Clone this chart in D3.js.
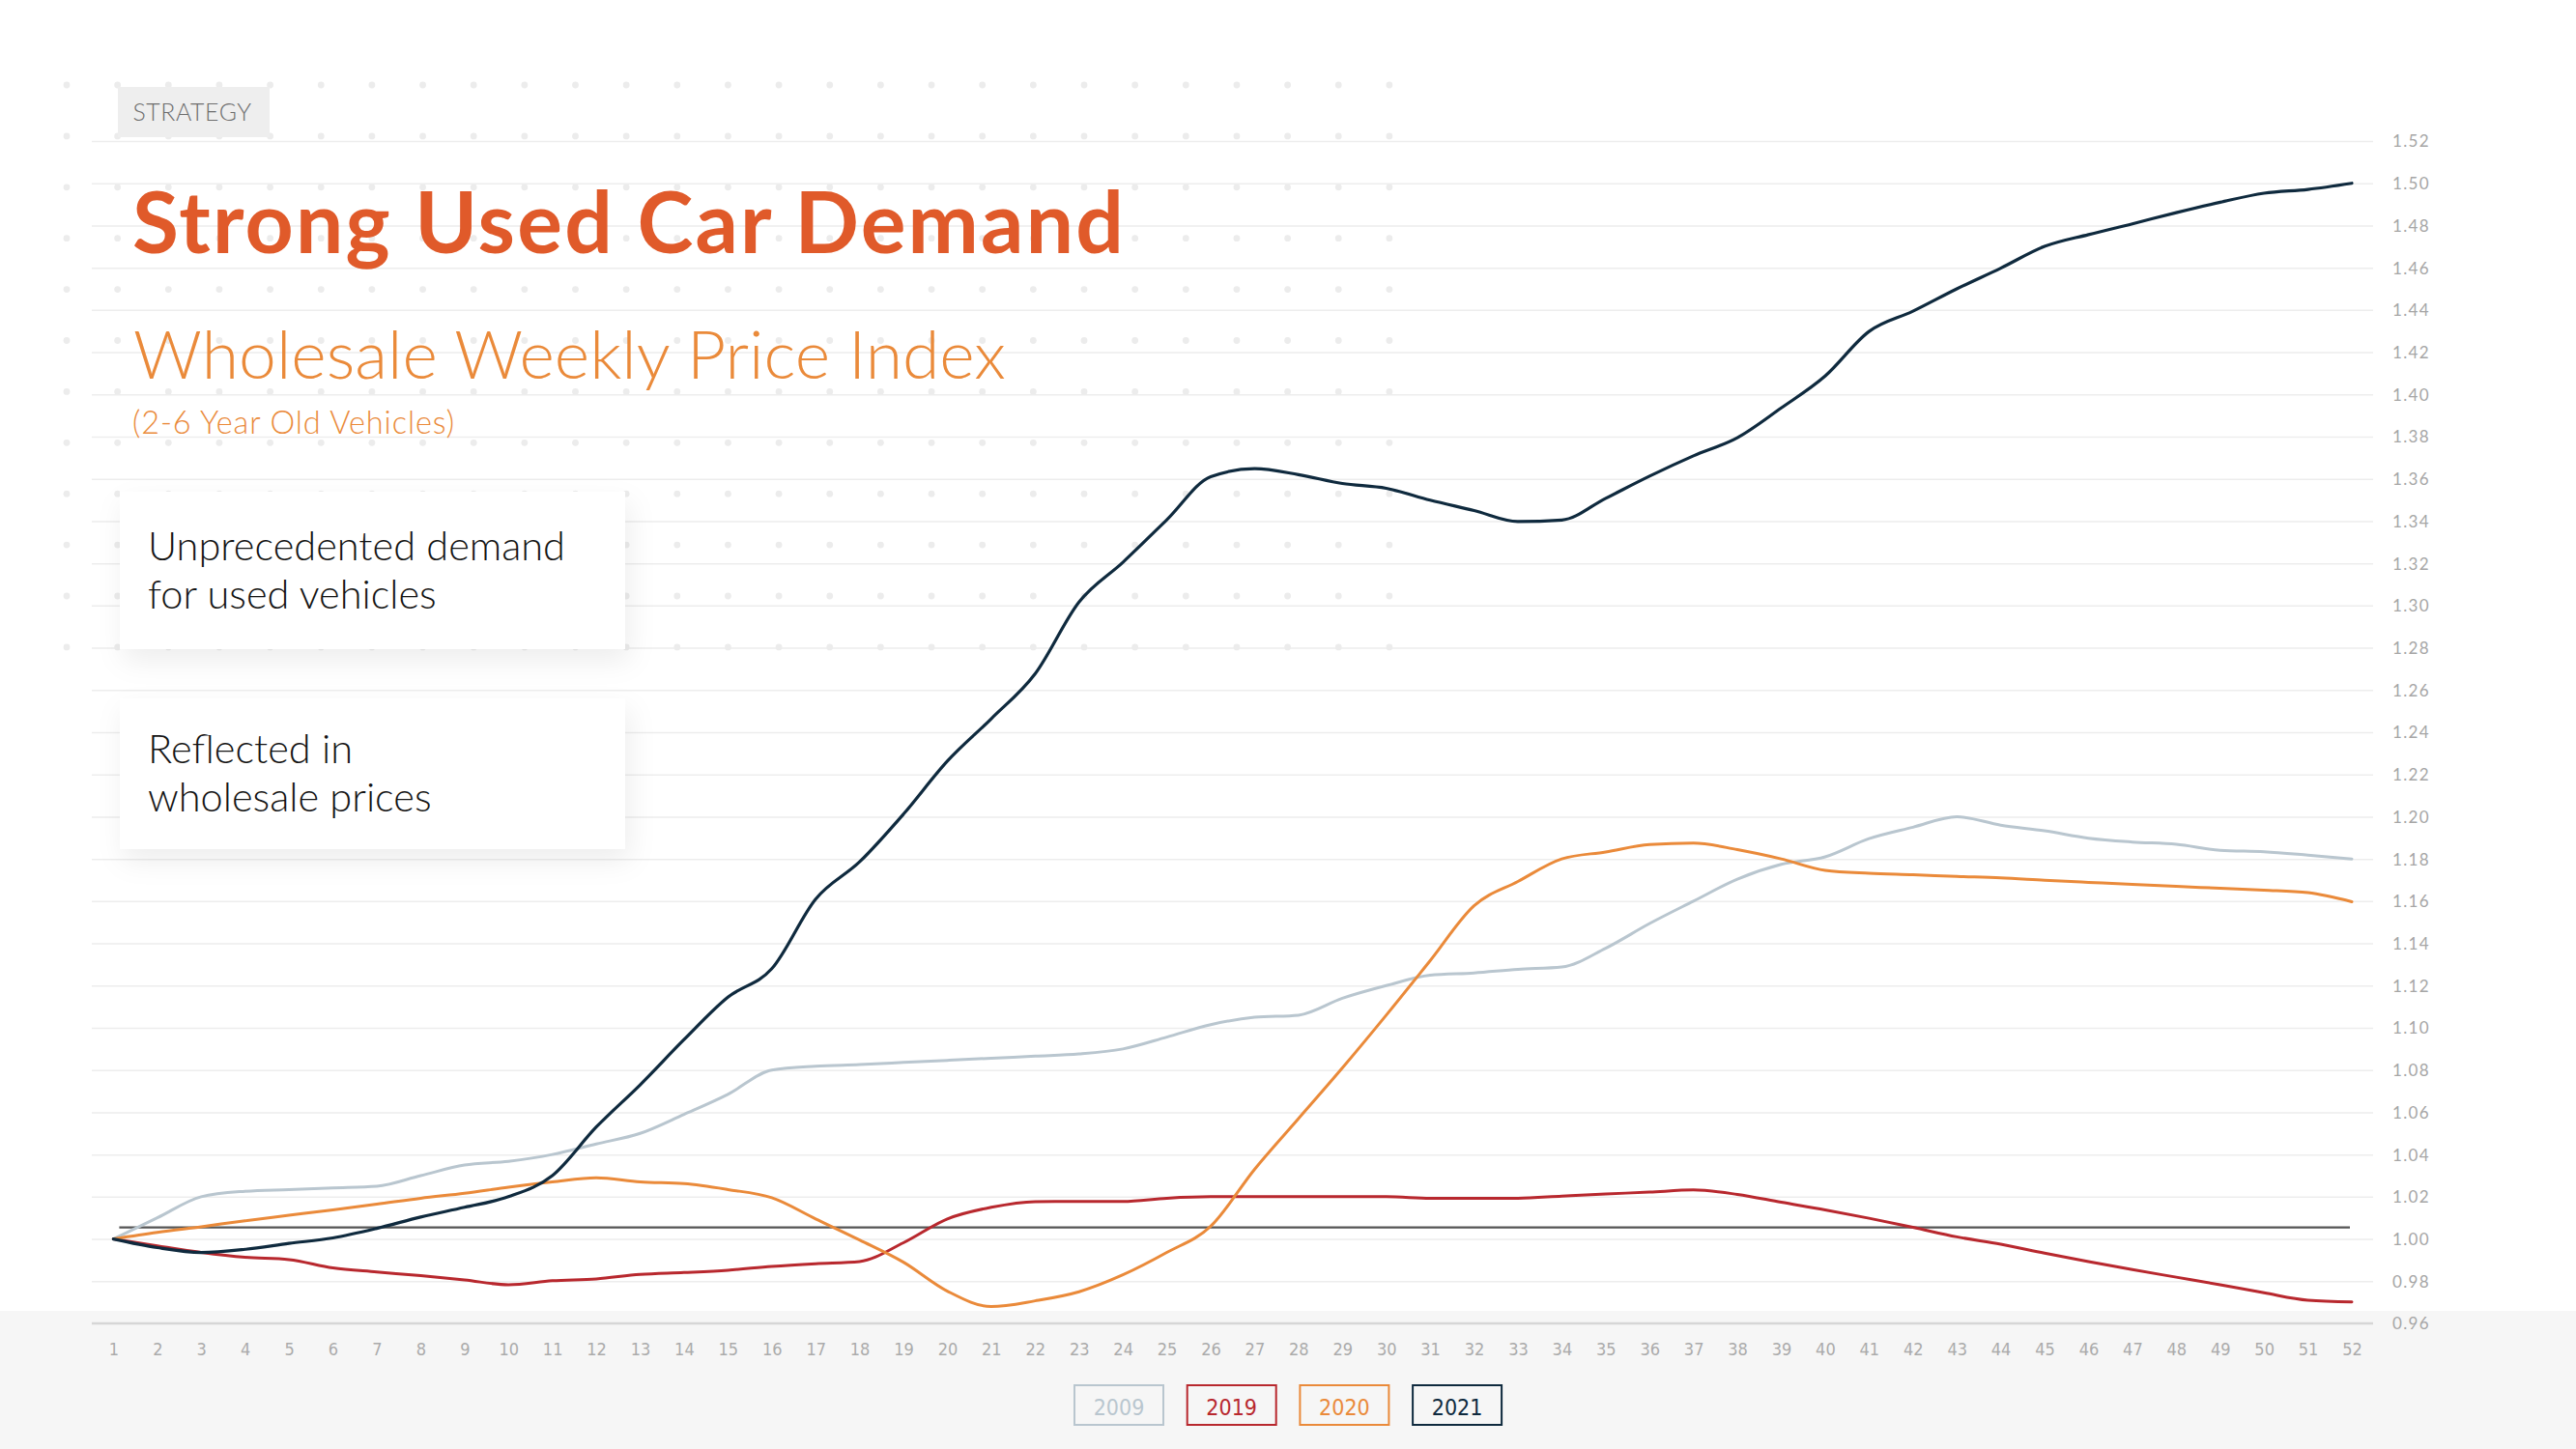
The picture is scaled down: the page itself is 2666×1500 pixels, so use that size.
<!DOCTYPE html>
<html>
<head>
<meta charset="utf-8">
<script src="https://cdn.jsdelivr.net/npm/d3@7"></script>
<style>
  html, body { margin: 0; padding: 0; background: #ffffff; }
  svg { display: block; }
</style>
</head>
<body>
<svg id="chart" width="2666" height="1500"></svg>
<script>
// ---------------- DATA ----------------
const weeks = d3.range(1, 53);

const values2009 = [
  1.000, 1.010, 1.020, 1.0226, 1.0234, 1.0242, 1.025, 1.030, 1.035, 1.0368,
  1.040, 1.045, 1.050, 1.059, 1.0685, 1.080, 1.0818, 1.0826, 1.0836, 1.0846,
  1.0856, 1.0866, 1.0876, 1.090, 1.0956, 1.1015, 1.105, 1.106, 1.114, 1.120,
  1.1249, 1.126, 1.1277, 1.1288, 1.1377, 1.1494, 1.160, 1.1704, 1.1774, 1.181,
  1.1896, 1.195, 1.200, 1.196, 1.1933, 1.1898, 1.188, 1.1869, 1.1841, 1.1834,
  1.1818, 1.180
];

const values2019 = [
  1.000, 0.9967, 0.9936, 0.9913, 0.9902, 0.9863, 0.9844, 0.9826, 0.9806, 0.9783,
  0.9802, 0.9811, 0.9832, 0.9841, 0.9852, 0.9870, 0.9883, 0.9893, 0.9982, 1.0095,
  1.015, 1.0177, 1.0178, 1.0178, 1.0193, 1.020, 1.020, 1.020, 1.020, 1.020,
  1.0193, 1.0192, 1.0193, 1.0203, 1.0213, 1.0222, 1.0232, 1.0211, 1.0174, 1.0138,
  1.0098, 1.0055, 1.001, 0.9975, 0.9933, 0.9893, 0.9855, 0.9819, 0.9783, 0.9745,
  0.971, 0.9702
];

const values2020 = [
  1.000, 1.0031, 1.0058, 1.0086, 1.0112, 1.0138, 1.0165, 1.0193, 1.0217, 1.0245,
  1.0270, 1.0290, 1.0270, 1.0262, 1.0234, 1.0195, 1.0095, 0.9995, 0.989, 0.9753,
  0.968, 0.9707, 0.975, 0.983, 0.9936, 1.006, 1.033, 1.057, 1.081, 1.106,
  1.1318, 1.1578, 1.1693, 1.180, 1.1833, 1.1868, 1.1875, 1.1844, 1.180, 1.1746,
  1.1732, 1.1725, 1.1717, 1.171, 1.1699, 1.1689, 1.1679, 1.167, 1.1661, 1.1652,
  1.164, 1.1597
];

const values2021 = [
  1.000, 0.9959, 0.9936, 0.9951, 0.9979, 1.0005, 1.005, 1.0104, 1.015, 1.020,
  1.030, 1.053, 1.073, 1.0944, 1.1145, 1.128, 1.161, 1.1786, 1.2012, 1.2263,
  1.2464, 1.2677, 1.3017, 1.3205, 1.3406, 1.361, 1.3648, 1.362, 1.3578, 1.3555,
  1.3499, 1.345, 1.3398, 1.3405, 1.3508, 1.3613, 1.3709, 1.3795, 1.3936, 1.4087,
  1.4298, 1.4394, 1.4500, 1.4598, 1.4701, 1.4757, 1.4808, 1.4861, 1.491, 1.4953,
  1.4971, 1.500
];

const seriesNames = ["2009", "2019", "2020", "2021"];
const seriesValues = [values2009, values2019, values2020, values2021];

const yTickValues = [0.96, 0.98, 1.00, 1.02, 1.04, 1.06, 1.08, 1.10, 1.12, 1.14,
  1.16, 1.18, 1.20, 1.22, 1.24, 1.26, 1.28, 1.30, 1.32, 1.34, 1.36, 1.38, 1.40,
  1.42, 1.44, 1.46, 1.48, 1.50, 1.52];

const referenceValue = 1.0055;

const tagText = "STRATEGY";
const titleText = "Strong Used Car Demand";
const subtitleText = "Wholesale Weekly Price Index";
const noteText = "(2-6 Year Old Vehicles)";
const callouts = [
  ["Unprecedented demand", "for used vehicles"],
  ["Reflected in", "wholesale prices"]
];

// ---------------- STYLE ----------------
const colors = { "2009": "#b9c6cf", "2019": "#b8282e", "2020": "#ea8a3a", "2021": "#0f2a3e" };
const widths = { "2009": 3, "2019": 3, "2020": 3, "2021": 3.2 };
const orange = "#e05a2a";
const lightOrange = "#ea8a3a";
const condensed = "'Liberation Sans Narrow', 'DejaVu Sans Condensed', 'Roboto Condensed', sans-serif";
const sans = "Lato, 'Open Sans', sans-serif";

// ---------------- LAYOUT ----------------
const W = 2666, H = 1500;
const gridLeft = 95, gridRight = 2456;
const x = d3.scaleLinear().domain([1, 52]).range([117.4, 2434]);
const y = d3.scaleLinear().domain([0.96, 1.52]).range([1370, 146]);

const svg = d3.select("#chart");
const defs = svg.append("defs");
const f = defs.append("filter").attr("id", "shadow")
  .attr("x", "-20%").attr("y", "-40%").attr("width", "150%").attr("height", "190%");
f.append("feDropShadow").attr("dx", 4).attr("dy", 12).attr("stdDeviation", 14)
  .attr("flood-color", "#000").attr("flood-opacity", 0.07);

svg.append("rect").attr("width", W).attr("height", H).attr("fill", "#ffffff");

// decorative dot pattern
const dotG = svg.append("g");
for (let i = 0; i < 12; i++) {
  for (let j = 0; j < 27; j++) {
    dotG.append("circle").attr("cx", 69 + j * 52.65).attr("cy", 88 + i * 52.9)
      .attr("r", 3.4).attr("fill", "#ececec");
  }
}

// gridlines
const gridG = svg.append("g")
  .attr("transform", `translate(${gridRight},0)`)
  .call(d3.axisLeft(y).tickValues(yTickValues.filter(v => v > 0.961))
    .tickSize(gridRight - gridLeft).tickFormat(""));
gridG.select(".domain").remove();
gridG.selectAll(".tick line").attr("stroke", "#ededed").attr("stroke-width", 1.5);

// bottom band
svg.append("rect").attr("x", 0).attr("y", 1357).attr("width", W).attr("height", H - 1357)
  .attr("fill", "#f6f6f6");

// x axis line at domain minimum
svg.append("line").attr("x1", gridLeft).attr("x2", gridRight)
  .attr("y1", y(0.96)).attr("y2", y(0.96))
  .attr("stroke", "#d6d6d6").attr("stroke-width", 2.5);

// helper to fit text to a measured width (font scale first, small spacing after)
function fit(sel, target, minK = 0.92, maxK = 1.1, maxLs = 0.8) {
  const node = sel.node();
  const fs = parseFloat(sel.attr("font-size"));
  let w = node.getComputedTextLength();
  const k = Math.max(minK, Math.min(maxK, target / w));
  sel.attr("font-size", fs * k);
  w = node.getComputedTextLength();
  const n = sel.text().length;
  const ls = Math.max(-maxLs, Math.min(maxLs, (target - w) / n));
  sel.attr("letter-spacing", ls);
}

// tag
svg.append("rect").attr("x", 122).attr("y", 90).attr("width", 157).attr("height", 52)
  .attr("fill", "#eeeeee");
const tag = svg.append("text").attr("x", 137.5).attr("y", 125)
  .attr("font-family", sans).attr("font-weight", 300).attr("font-size", 23).attr("fill", "#6e6e6e")
  .text(tagText);
fit(tag, 123, 0.92, 1.08, 1.2);

// titles
const title = svg.append("text").attr("x", 137).attr("y", 262)
  .attr("font-family", sans).attr("font-weight", 700).attr("font-size", 81)
  .attr("fill", orange).text(titleText);
fit(title, 1028, 0.92, 1.08, 4.5);

const sub = svg.append("text").attr("x", 138).attr("y", 392)
  .attr("font-family", sans).attr("font-weight", 300).attr("font-size", 65)
  .attr("fill", lightOrange).text(subtitleText);
fit(sub, 903);

const note = svg.append("text").attr("x", 137).attr("y", 449)
  .attr("font-family", sans).attr("font-weight", 300).attr("font-size", 29)
  .attr("fill", lightOrange).text(noteText);
fit(note, 334, 0.92, 1.12, 0.9);

// callout boxes
const boxTops = [509, 723];
const boxH = [163, 156];
callouts.forEach((lines, i) => {
  svg.append("rect").attr("x", 124).attr("y", boxTops[i]).attr("width", 523)
    .attr("height", boxH[i]).attr("fill", "#ffffff").attr("filter", "url(#shadow)");
});
const calloutBaselines = [[580, 629.5], [790, 839.5]];
let calloutSize = 38;
{
  const probe = svg.append("text").attr("font-family", sans).attr("font-weight", 300)
    .attr("font-size", 38).text(callouts[0][0]);
  const w = probe.node().getComputedTextLength();
  calloutSize = 38 * Math.max(0.9, Math.min(1.12, 432 / w));
  probe.remove();
}
callouts.forEach((lines, i) => {
  lines.forEach((t, j) => {
    svg.append("text").attr("x", 153).attr("y", calloutBaselines[i][j])
      .attr("font-family", sans).attr("font-weight", 300).attr("font-size", calloutSize)
      .attr("fill", "#141414").text(t);
  });
});

// reference line
svg.append("line").attr("x1", x(1) + 6).attr("x2", x(52) - 2)
  .attr("y1", y(referenceValue)).attr("y2", y(referenceValue))
  .attr("stroke", "#555555").attr("stroke-width", 2.2);

// series lines
const line = d3.line().x((d, i) => x(weeks[i])).y(d => y(d)).curve(d3.curveMonotoneX);
seriesNames.forEach((name, k) => {
  svg.append("path").datum(seriesValues[k])
    .attr("d", line).attr("fill", "none")
    .attr("stroke", colors[name]).attr("stroke-width", widths[name])
    .attr("stroke-linejoin", "round").attr("stroke-linecap", "round");
});

// y axis labels
const yAxisG = svg.append("g").attr("transform", "translate(2476,0)")
  .call(d3.axisRight(y).tickValues(yTickValues).tickSize(0).tickPadding(0)
    .tickFormat(d3.format(".2f")));
yAxisG.select(".domain").remove();
yAxisG.selectAll("text").attr("font-family", sans).attr("font-size", 17)
  .attr("fill", "#a6a6a6").attr("letter-spacing", 1.3).attr("dy", "0.35em");

// x axis labels
const xAxisG = svg.append("g").attr("transform", `translate(0,${1385})`)
  .call(d3.axisBottom(x).tickValues(weeks).tickSize(0).tickPadding(0)
    .tickFormat(d3.format("d")));
xAxisG.select(".domain").remove();
xAxisG.selectAll("text").attr("font-family", condensed).attr("font-size", 18)
  .attr("fill", "#ababab").attr("dy", "1.0em");

// legend
const legend = svg.append("g");
seriesNames.forEach((name, i) => {
  const lx = 1112 + i * 116.7;
  legend.append("rect").attr("x", lx).attr("y", 1434).attr("width", 92).attr("height", 41)
    .attr("fill", "none").attr("stroke", colors[name]).attr("stroke-width", 2);
  legend.append("text").attr("x", lx + 46).attr("y", 1464.5)
    .attr("text-anchor", "middle").attr("font-family", condensed).attr("font-size", 23)
    .attr("fill", colors[name]).text(name);
});
</script>
</body>
</html>
